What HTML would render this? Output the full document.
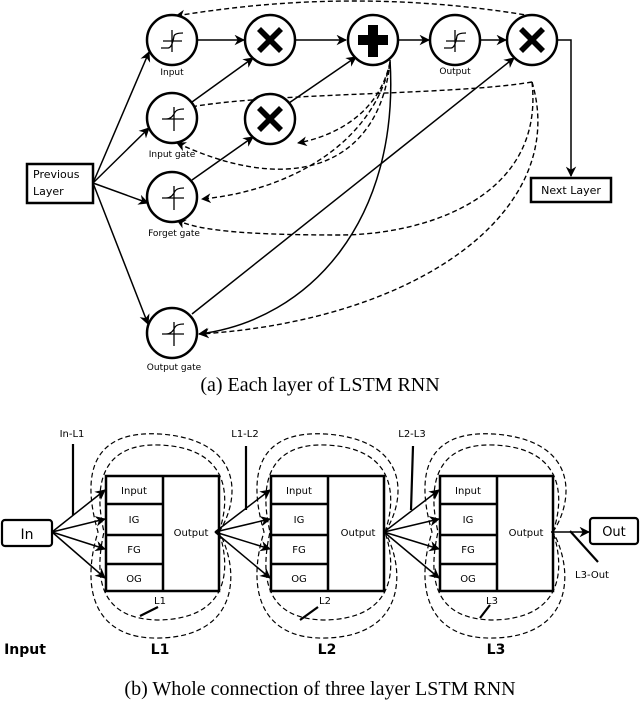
<!DOCTYPE html>
<html><head><meta charset="utf-8"><style>
html,body{margin:0;padding:0;background:#fff;width:640px;height:702px;overflow:hidden}
svg{display:block}
text{font-family:"DejaVu Sans","Liberation Sans",sans-serif;fill:#000}
.cap{font-family:"Liberation Serif",serif;font-size:20px}
</style></head><body>
<svg width="640" height="702" viewBox="0 0 640 702" xmlns="http://www.w3.org/2000/svg">
<defs>
<marker id="a" viewBox="0 0 10 10" refX="9" refY="5" markerWidth="7" markerHeight="7" orient="auto-start-reverse"><path d="M0,0 L10,5 L0,10 L3,5 z" fill="#000"/></marker>
</defs>
<g fill="none" stroke="#000" stroke-width="1.5">
<line x1="93" y1="183" x2="149" y2="52" marker-end="url(#a)"/>
<line x1="93" y1="183" x2="149" y2="128" marker-end="url(#a)"/>
<line x1="93" y1="183" x2="148" y2="203" marker-end="url(#a)"/>
<line x1="93" y1="183" x2="148" y2="324" marker-end="url(#a)"/>
<line x1="197" y1="40" x2="244" y2="40" marker-end="url(#a)"/>
<line x1="296" y1="40" x2="346" y2="40" marker-end="url(#a)"/>
<line x1="399" y1="40" x2="429" y2="40" marker-end="url(#a)"/>
<line x1="481" y1="40" x2="506" y2="40" marker-end="url(#a)"/>
<polyline points="558,40 571,40 571,176" marker-end="url(#a)"/>
<line x1="192" y1="102" x2="253" y2="58" marker-end="url(#a)"/>
<line x1="192" y1="180" x2="253" y2="137" marker-end="url(#a)"/>
<line x1="289" y1="103" x2="356" y2="57" marker-end="url(#a)"/>
<line x1="192" y1="314" x2="514" y2="58" marker-end="url(#a)"/>
<path d="M390,60 C400,220 310,320 199,334" marker-end="url(#a)"/>
</g>
<g fill="none" stroke="#000" stroke-width="1.4" stroke-dasharray="5,3">
<path d="M532,16 Q355,-14 176,16" marker-end="url(#a)"/>
<path d="M532,82 C450,96 250,92 176,110" marker-end="url(#a)"/>
<path d="M390,62 C380,110 340,135 298,143" marker-end="url(#a)"/>
<path d="M390,62 C380,160 300,200 177,143" marker-end="url(#a)"/>
<path d="M390,64 C370,150 280,192 202,199" marker-end="url(#a)"/>
<path d="M532,82 C545,200 420,235 340,235 C260,235 200,232 177,220" marker-end="url(#a)"/>
<path d="M532,82 C570,210 420,320 200,334" marker-end="url(#a)"/>
</g>
<g fill="#fff" stroke="#000" stroke-width="2.5">
<circle cx="172" cy="40" r="25"/><circle cx="270" cy="40" r="25"/><circle cx="373" cy="40" r="25"/>
<circle cx="455" cy="40" r="25"/><circle cx="532" cy="40" r="25"/>
<circle cx="172" cy="118" r="25"/><circle cx="270" cy="119" r="25"/>
<circle cx="172" cy="197" r="25"/><circle cx="172" cy="333" r="25"/>
</g>
<g fill="none" stroke="#000" stroke-width="1.3">
<path d="M172,30 V52 M163,41 H182 M161,48 H168 Q172,48 174,36 Q175,33 183,33"/>
<path d="M455,30 V52 M446,41 H465 M444,48 H451 Q455,48 457,36 Q458,33 466,33"/>
<path d="M174,107 V131 M162,119 H184 M166,119 Q172,119 175,112 Q177,109 184,109"/>
<path d="M174,186 V210 M162,198 H184 M166,198 Q172,198 175,191 Q177,188 184,188"/>
<path d="M174,322 V346 M162,334 H184 M166,334 Q172,334 175,327 Q177,324 184,324"/>
</g>
<g fill="#000">
<path d="M270,40 m-13,-9 l4,-4 l9,9 l9,-9 l4,4 l-9,9 l9,9 l-4,4 l-9,-9 l-9,9 l-4,-4 l9,-9 z"/>
<path d="M270,119 m-13,-9 l4,-4 l9,9 l9,-9 l4,4 l-9,9 l9,9 l-4,4 l-9,-9 l-9,9 l-4,-4 l9,-9 z"/>
<path d="M532,40 m-13,-9 l4,-4 l9,9 l9,-9 l4,4 l-9,9 l9,9 l-4,4 l-9,-9 l-9,9 l-4,-4 l9,-9 z"/>
<path d="M368,25 h10 v10 h10 v10 h-10 v12 h-10 v-12 h-10 v-10 h10 z"/>
</g>
<g font-size="9" text-anchor="middle">
<text x="172" y="75">Input</text><text x="455" y="74">Output</text>
<text x="172" y="157">Input gate</text><text x="174" y="236">Forget gate</text><text x="174" y="370">Output gate</text>
</g>
<rect x="27" y="164" width="66" height="39" fill="#fff" stroke="#000" stroke-width="2.5"/>
<text x="33" y="178" font-size="11">Previous</text><text x="33" y="195" font-size="11">Layer</text>
<rect x="531" y="178" width="80" height="24" fill="#fff" stroke="#000" stroke-width="2.5"/>
<text x="571" y="194" font-size="11" text-anchor="middle">Next Layer</text>
<text class="cap" x="320" y="391" text-anchor="middle">(a) Each layer of LSTM RNN</text>

<g fill="none" stroke="#000" stroke-width="1.2" stroke-dasharray="5,3">
<g id="loops">
<path d="M219,532 C240,500 245,440 160,434 C95,430 80,470 98,532 C80,590 95,640 160,638 C240,636 240,570 219,532"/>
<path d="M219,532 C230,500 232,448 160,445 C105,443 92,480 104,532 C92,585 105,620 160,620 C232,618 230,565 219,532"/>
</g>
<use href="#loops" x="166"/>
<use href="#loops" x="334"/>
</g>
<g stroke="#000" stroke-width="1.5" fill="none">
<line x1="52" y1="532" x2="105" y2="490" marker-end="url(#a)"/>
<line x1="52" y1="532" x2="105" y2="519" marker-end="url(#a)"/>
<line x1="52" y1="532" x2="105" y2="549" marker-end="url(#a)"/>
<line x1="52" y1="532" x2="105" y2="578" marker-end="url(#a)"/>
<line x1="215" y1="532" x2="270" y2="490" marker-end="url(#a)"/>
<line x1="215" y1="532" x2="270" y2="519" marker-end="url(#a)"/>
<line x1="215" y1="532" x2="270" y2="549" marker-end="url(#a)"/>
<line x1="215" y1="532" x2="270" y2="578" marker-end="url(#a)"/>
<line x1="384" y1="532" x2="439" y2="490" marker-end="url(#a)"/>
<line x1="384" y1="532" x2="439" y2="519" marker-end="url(#a)"/>
<line x1="384" y1="532" x2="439" y2="549" marker-end="url(#a)"/>
<line x1="384" y1="532" x2="439" y2="578" marker-end="url(#a)"/>
<line x1="551" y1="532" x2="589" y2="532" marker-end="url(#a)"/>
</g>
<g stroke="#000" stroke-width="2.2">
<line x1="73" y1="444" x2="73" y2="515"/>
<line x1="246" y1="446" x2="246" y2="510"/>
<line x1="413" y1="446" x2="411" y2="510"/>
<line x1="570" y1="531" x2="598" y2="562"/>
<line x1="140" y1="616" x2="158" y2="607"/>
<line x1="300" y1="620" x2="318" y2="607"/>
<line x1="480" y1="618" x2="490" y2="605"/>
</g>
<g id="blk" fill="none" stroke="#000" stroke-width="2.5">
<rect x="106" y="476" width="113" height="115"/>
<line x1="163" y1="476" x2="163" y2="591"/>
<line x1="106" y1="504" x2="163" y2="504"/><line x1="106" y1="535" x2="163" y2="535"/><line x1="106" y1="564" x2="163" y2="564"/>
</g>
<use href="#blk" x="165"/><use href="#blk" x="334"/>
<g font-size="10" text-anchor="middle">
<text x="134" y="494">Input</text><text x="134" y="523">IG</text><text x="134" y="553">FG</text><text x="134" y="582">OG</text><text x="191" y="536">Output</text>
<text x="299" y="494">Input</text><text x="299" y="523">IG</text><text x="299" y="553">FG</text><text x="299" y="582">OG</text><text x="358" y="536">Output</text>
<text x="468" y="494">Input</text><text x="468" y="523">IG</text><text x="468" y="553">FG</text><text x="468" y="582">OG</text><text x="526" y="536">Output</text>
<text x="72" y="437">In-L1</text><text x="245" y="437">L1-L2</text><text x="412" y="437">L2-L3</text><text x="592" y="578">L3-Out</text>
<text x="160" y="604">L1</text><text x="325" y="604">L2</text><text x="492" y="604">L3</text>
</g>
<rect x="2" y="520" width="50" height="26" rx="3" fill="#fff" stroke="#000" stroke-width="2.2"/>
<text x="27" y="539" font-size="14" text-anchor="middle">In</text>
<rect x="590" y="518" width="48" height="26" rx="3" fill="#fff" stroke="#000" stroke-width="2.2"/>
<text x="614" y="536" font-size="13" text-anchor="middle">Out</text>
<g font-size="14" font-weight="bold" text-anchor="middle">
<text x="25" y="654">Input</text><text x="160" y="654">L1</text><text x="327" y="654">L2</text><text x="496" y="654">L3</text>
</g>
<text class="cap" x="320" y="695" text-anchor="middle">(b) Whole connection of three layer LSTM RNN</text>
</svg>
</body></html>
